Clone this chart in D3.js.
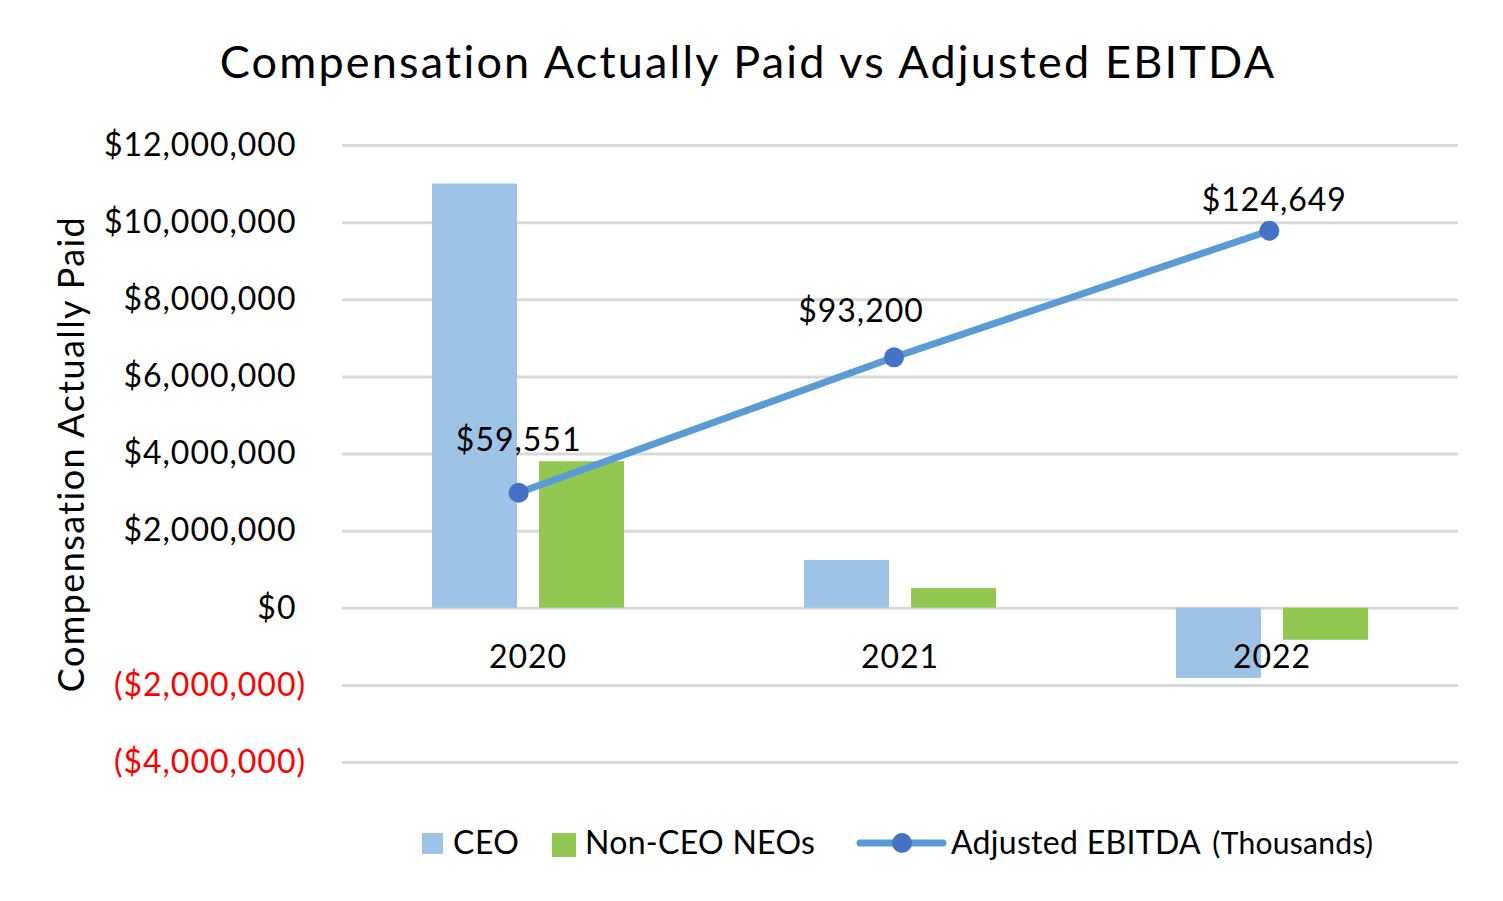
<!DOCTYPE html>
<html lang="en">
  <head>
    <meta charset="UTF-8" />
    <title>Compensation Actually Paid vs Adjusted EBITDA</title>
    <script src="https://d3js.org/d3.v7.min.js"></script>
    <style>
      body { margin: 0; background: #fff; }
      text { font-family: Lato, 'Open Sans', sans-serif; }
    </style>
  </head>

  <body>
    <div id="graph"></div>
    <script>
      const years = ['2020', '2021', '2022']
      const seriesNames = ['CEO', 'Non-CEO NEOs']
      const ceo = [11000000, 1240000, -1820000]
      const nonCeo = [3800000, 510000, -830000]
      const ebitda = [59551, 93200, 124649]
      const ebitdaLabels = ['$59,551', '$93,200', '$124,649']
      const yTicks = [-4000000, -2000000, 0, 2000000, 4000000, 6000000, 8000000, 10000000, 12000000]

      const W = 1503, H = 901
      const svg = d3.select('#graph').append('svg').attr('width', W).attr('height', H)

      // scales
      const x = d3.scaleBand().domain(years).range([342, 1458])
      const xSub = d3.scaleBand().domain(seriesNames).range([0, x.bandwidth()]).paddingInner(0.2056).paddingOuter(0.841)
      const y = d3.scaleLinear().domain([-4000000, 12000000]).range([762, 145])
      // secondary (hidden) axis for the EBITDA line
      const xLine = d3.scalePoint().domain(years).range([331, 1457]).padding(0.5)
      const y2 = d3.scaleLinear().domain([-7350, 145950]).range([762, 145])
      const color = d3.scaleOrdinal().domain(seriesNames).range(['#9DC3E6', '#92C852'])

      // title
      svg.append('text')
        .attr('x', 748).attr('y', 78)
        .attr('text-anchor', 'middle')
        .attr('font-size', 45)
        .attr('letter-spacing', 2.2)
        .attr('fill', '#000')
        .text('Compensation Actually Paid vs Adjusted EBITDA')

      // gridlines + y labels
      const fmt = d3.format('$,.0f')
      const yAxis = d3.axisLeft(y).tickValues(yTicks).tickSize(-1116).tickPadding(44)
        .tickFormat(d => d < 0 ? '(' + fmt(-d) + ')' : fmt(d))
      const gy = svg.append('g').attr('transform', 'translate(342,0)').call(yAxis)
      gy.select('.domain').remove()
      gy.selectAll('.tick line').attr('stroke', '#D9D9D9').attr('stroke-width', 3)
      gy.selectAll('.tick text')
        .attr('font-size', 32)
        .attr('letter-spacing', 1)
        .attr('fill', d => d < 0 ? '#FF0000' : '#000')
        .attr('x', -36)
      // positive numbers keep room for the closing paren, like Excel's _) format
      gy.selectAll('.tick text').filter(d => d >= 0)
        .append('tspan').attr('fill-opacity', 0).text(')')

      // y axis title
      svg.append('text')
        .attr('transform', 'translate(84,454) rotate(-90)')
        .attr('text-anchor', 'middle')
        .attr('font-size', 36)
        .attr('letter-spacing', 1.4)
        .attr('fill', '#000')
        .text('Compensation Actually Paid')

      // bars
      const groups = svg.append('g').selectAll('g')
        .data(years.map((yr, i) => ({ yr, vals: [ceo[i], nonCeo[i]] })))
        .join('g')
        .attr('transform', d => `translate(${x(d.yr)},0)`)
      groups.selectAll('rect')
        .data(d => d.vals.map((v, j) => ({ name: seriesNames[j], v })))
        .join('rect')
        .attr('x', d => xSub(d.name))
        .attr('width', xSub.bandwidth())
        .attr('y', d => y(Math.max(0, d.v)))
        .attr('height', d => Math.abs(y(d.v) - y(0)))
        .attr('fill', d => color(d.name))

      // category labels
      svg.append('g').selectAll('text')
        .data(years)
        .join('text')
        .attr('x', d => x(d) + x.bandwidth() / 2)
        .attr('y', y(0) + 60)
        .attr('text-anchor', 'middle')
        .attr('font-size', 32)
        .attr('letter-spacing', 1)
        .attr('fill', '#000')
        .text(d => d)

      // EBITDA line
      const line = d3.line().x((d, i) => xLine(years[i])).y(d => y2(d))
      svg.append('path')
        .datum(ebitda)
        .attr('d', line)
        .attr('fill', 'none')
        .attr('stroke', '#5B9BD5')
        .attr('stroke-width', 7)
        .attr('stroke-linecap', 'round')
      svg.append('g').selectAll('circle')
        .data(ebitda)
        .join('circle')
        .attr('cx', (d, i) => xLine(years[i]))
        .attr('cy', d => y2(d))
        .attr('r', 10)
        .attr('fill', '#4472C4')

      // data labels (hand placed in the original)
      const labelDx = [0, -33, 5]
      const labelDy = [-42, -35, -20]
      svg.append('g').selectAll('text')
        .data(ebitda)
        .join('text')
        .attr('x', (d, i) => xLine(years[i]) + labelDx[i])
        .attr('y', (d, i) => y2(d) + labelDy[i])
        .attr('text-anchor', 'middle')
        .attr('font-size', 32)
        .attr('letter-spacing', 1)
        .attr('fill', '#000')
        .text((d, i) => ebitdaLabels[i])

      // legend
      const lg = svg.append('g').attr('transform', 'translate(0,843)')
      lg.append('rect').attr('x', 422).attr('y', -10).attr('width', 21).attr('height', 21).attr('fill', color('CEO'))
      lg.append('text').attr('x', 453).attr('y', 11).attr('font-size', 32).attr('letter-spacing', 0.5).text('CEO')
      lg.append('rect').attr('x', 552).attr('y', -10).attr('width', 24).attr('height', 24).attr('fill', color('Non-CEO NEOs'))
      lg.append('text').attr('x', 585).attr('y', 11).attr('font-size', 32).attr('letter-spacing', 0.3).text('Non-CEO NEOs')
      lg.append('line').attr('x1', 860).attr('x2', 943).attr('y1', 0).attr('y2', 0)
        .attr('stroke', '#5B9BD5').attr('stroke-width', 7).attr('stroke-linecap', 'round')
      lg.append('circle').attr('cx', 902).attr('cy', 0).attr('r', 10).attr('fill', '#4472C4')
      const lt = lg.append('text').attr('x', 951).attr('y', 11).attr('font-size', 32).attr('letter-spacing', 0.3)
      lt.append('tspan').text('Adjusted EBITDA ')
      lt.append('tspan').attr('font-size', 30).attr('dx', 4).text('(Thousands)')
    </script>
  </body>
</html>
